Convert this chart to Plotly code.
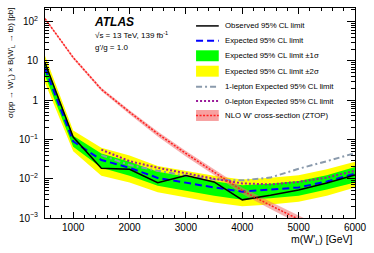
import plotly.graph_objects as go

# ---------------- data ----------------
mass = [500, 1000, 1500, 2000, 2500, 3000, 3500, 4000, 4500, 5000, 5500, 6000]
observed = [9.0, 0.115, 0.0185, 0.0175, 0.0079, 0.012, 0.0083, 0.0029, 0.0038, 0.0052, 0.0078, 0.0125]
expected = [6.5, 0.09, 0.030, 0.019, 0.0105, 0.0079, 0.0060, 0.0047, 0.0052, 0.0060, 0.0085, 0.0135]
exp_1s_up = [9.5, 0.125, 0.044, 0.027, 0.015, 0.0112, 0.0086, 0.0068, 0.0075, 0.0087, 0.0123, 0.020]
exp_1s_dn = [4.3, 0.065, 0.019, 0.012, 0.0066, 0.0049, 0.0037, 0.0029, 0.0032, 0.0037, 0.0053, 0.0080]
exp_2s_up = [13.5, 0.17, 0.062, 0.039, 0.021, 0.016, 0.012, 0.0096, 0.0106, 0.0123, 0.0175, 0.027]
exp_2s_dn = [2.8, 0.05, 0.012, 0.0080, 0.0045, 0.0034, 0.0025, 0.0020, 0.0022, 0.0026, 0.0037, 0.0060]

comb_mass = [1500, 2000, 2500, 3000, 3500, 4000, 4500, 5000, 5500, 6000]
lep1_expected = [0.040, 0.0224, 0.016, 0.012, 0.0095, 0.0091, 0.0107, 0.018, 0.028, 0.045]
lep0_expected = [0.055, 0.028, 0.019, 0.0138, 0.010, 0.0076, 0.0072, 0.0083, 0.0107, 0.016]

nlo_xsec = [120, 12.3, 1.9, 0.5, 0.14, 0.044, 0.0148, 0.005, 0.0021, 0.0009, 0.0004, 0.00018]
nlo_up = [128, 13.3, 2.08, 0.56, 0.16, 0.051, 0.0174, 0.006, 0.0026, 0.00112, 0.0005, 0.00023]
nlo_dn = [112, 11.3, 1.72, 0.44, 0.12, 0.037, 0.0124, 0.0041, 0.0017, 0.0007, 0.00031, 0.00013]

x_ticks = [1000, 2000, 3000, 4000, 5000, 6000]
y_ticks = [1e-3, 1e-2, 1e-1, 1, 10, 100]
y_ticktext = ["10<sup>\u22123</sup>", "10<sup>\u22122</sup>", "10<sup>\u22121</sup>", "1", "10", "10<sup>2</sup>"]

legend_labels = [
    "Observed 95% CL limit",
    "Expected 95% CL limit",
    "Expected 95% CL limit \u00b11\u03c3",
    "Expected 95% CL limit \u00b12\u03c3",
    "1-lepton Expected 95% CL limit",
    "0-lepton Expected 95% CL limit",
    "NLO W' cross-section (ZTOP)",
]

FONT = "Liberation Sans, Arial, sans-serif"
YELLOW = "#ffff00"
GREEN = "#00ff00"
BLUE = "#0000ff"
GREY = "#8a9aac"
PURPLE = "#9a1a9a"
RED = "#ff2020"
REDBAND = "rgba(240,110,110,0.55)"

fig = go.Figure()

# bands
fig.add_trace(go.Scatter(x=mass, y=exp_2s_dn, mode="lines", line=dict(width=0), showlegend=False, hoverinfo="skip"))
fig.add_trace(go.Scatter(x=mass, y=exp_2s_up, mode="lines", line=dict(width=0), fill="tonexty",
                         fillcolor=YELLOW, showlegend=False, hoverinfo="skip"))
fig.add_trace(go.Scatter(x=mass, y=exp_1s_dn, mode="lines", line=dict(width=0), showlegend=False, hoverinfo="skip"))
fig.add_trace(go.Scatter(x=mass, y=exp_1s_up, mode="lines", line=dict(width=0), fill="tonexty",
                         fillcolor=GREEN, showlegend=False, hoverinfo="skip"))
# NLO band
fig.add_trace(go.Scatter(x=mass, y=nlo_dn, mode="lines", line=dict(width=0), showlegend=False, hoverinfo="skip"))
fig.add_trace(go.Scatter(x=mass, y=nlo_up, mode="lines", line=dict(width=0), fill="tonexty",
                         fillcolor=REDBAND, showlegend=False, hoverinfo="skip"))

# lines
fig.add_trace(go.Scatter(x=comb_mass, y=lep1_expected, mode="lines",
                         line=dict(color=GREY, width=2, dash="6px,3px,2px,3px"), showlegend=False))
fig.add_trace(go.Scatter(x=comb_mass, y=lep0_expected, mode="lines",
                         line=dict(color=PURPLE, width=2, dash="2px,2px"), showlegend=False))
fig.add_trace(go.Scatter(x=mass, y=expected, mode="lines",
                         line=dict(color=BLUE, width=2, dash="7px,4px"), showlegend=False))
fig.add_trace(go.Scatter(x=mass, y=observed, mode="lines",
                         line=dict(color="black", width=1.5), showlegend=False))
fig.add_trace(go.Scatter(x=mass, y=nlo_xsec, mode="lines",
                         line=dict(color=RED, width=1.5, dash="2px,1.5px"), showlegend=False))

# ---------------- layout ----------------
W, H = 374, 253
ML, MR, MT, MB = 45, 15, 7, 35
PW, PH = W - ML - MR, H - MT - MB


def px(xp):
    return (xp - ML) / PW


def py(yp):
    return (MT + PH - yp) / PH


shapes = []
annotations = []

rows_y = [25, 40, 55, 70.5, 86, 100.5, 115]
sx0, sx1, tx = 198, 221, 225
for i, (lab, ry) in enumerate(zip(legend_labels, rows_y)):
    annotations.append(dict(xref="paper", yref="paper", x=px(tx), y=py(ry), text=lab, showarrow=False,
                            xanchor="left", yanchor="middle", font=dict(family=FONT, size=7.8, color="black")))
line_rows = {0: dict(color="black", width=1.5),
             1: dict(color=BLUE, width=2, dash="7px,4px"),
             4: dict(color=GREY, width=2, dash="6px,3px,2px,3px"),
             5: dict(color=PURPLE, width=2, dash="2px,2px")}
for i, ln in line_rows.items():
    shapes.append(dict(type="line", xref="paper", yref="paper", x0=px(sx0), x1=px(sx1),
                       y0=py(rows_y[i]), y1=py(rows_y[i]), line=ln))
for i, col in [(2, GREEN), (3, YELLOW), (6, "#f7a0a0")]:
    shapes.append(dict(type="rect", xref="paper", yref="paper", x0=px(sx0), x1=px(sx1),
                       y0=py(rows_y[i] - 5.5), y1=py(rows_y[i] + 5.5), fillcolor=col, line=dict(width=0)))
shapes.append(dict(type="line", xref="paper", yref="paper", x0=px(sx0), x1=px(sx1),
                   y0=py(rows_y[6]), y1=py(rows_y[6]), line=dict(color=RED, width=1.5, dash="2px,1.5px")))

# ATLAS label
annotations.append(dict(xref="paper", yref="paper", x=px(93), y=py(21), text="<b><i>ATLAS</i></b>",
                        showarrow=False, xanchor="left", yanchor="middle",
                        font=dict(family=FONT, size=12, color="black")))
annotations.append(dict(xref="paper", yref="paper", x=px(94), y=py(34), text="\u221as = 13 TeV, 139 fb<sup>-1</sup>",
                        showarrow=False, xanchor="left", yanchor="middle",
                        font=dict(family=FONT, size=8, color="black")))
annotations.append(dict(xref="paper", yref="paper", x=px(94), y=py(47), text="g'/g = 1.0",
                        showarrow=False, xanchor="left", yanchor="middle",
                        font=dict(family=FONT, size=8, color="black")))

# axis titles
annotations.append(dict(xref="paper", yref="paper", x=1.0, y=py(240), text="m(W'<sub>L</sub>) [GeV]",
                        showarrow=False, xanchor="right", yanchor="middle",
                        font=dict(family=FONT, size=10.5, color="black")))
annotations.append(dict(xref="paper", yref="paper", x=px(10), y=py(4),
                        text="\u03c3(pp \u2192 W'<sub>L</sub>) \u00d7 B(W'<sub>L</sub> \u2192 tb) [pb]",
                        textangle=-90, showarrow=False, xanchor="center", yanchor="top",
                        font=dict(family=FONT, size=8, color="black")))

minor_y = [m * 10 ** k for k in range(-3, 3) for m in range(2, 10)]

fig.update_layout(
    width=W, height=H,
    margin=dict(l=ML, r=MR, t=MT, b=MB),
    paper_bgcolor="white", plot_bgcolor="white",
    showlegend=False,
    shapes=shapes, annotations=annotations,
    font=dict(family=FONT, color="black"),
    xaxis=dict(range=[500, 6000], tickmode="array", tickvals=x_ticks, ticks="inside", ticklen=6,
               tickcolor="black", showline=True, linecolor="black", linewidth=1, mirror="allticks",
               showgrid=False, zeroline=False, tickfont=dict(family=FONT, size=10, color="black"),
               minor=dict(tickmode="linear", tick0=0, dtick=200, ticks="inside", ticklen=3, tickcolor="black")),
    yaxis=dict(type="log", range=[-3, 2.35], tickmode="array", tickvals=y_ticks, ticktext=y_ticktext,
               ticks="inside", ticklen=8, tickcolor="black", showline=True, linecolor="black", linewidth=1,
               mirror="allticks", showgrid=False, zeroline=False, ticklabelstandoff=4,
               tickfont=dict(family=FONT, size=10, color="black"),
               minor=dict(tickmode="array", tickvals=minor_y, ticks="inside", ticklen=4, tickcolor="black")),
)

fig.write_html("out.html", config={"displayModeBar": False},
               post_script="document.body.style.margin='0px';document.body.style.overflow='hidden';")
